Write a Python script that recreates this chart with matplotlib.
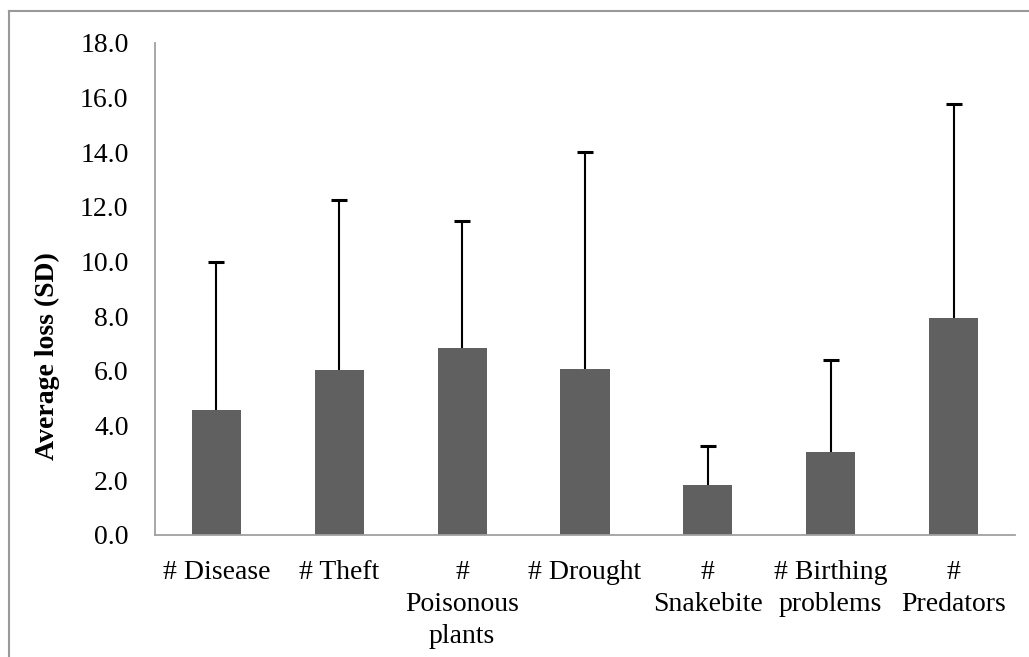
import matplotlib
matplotlib.use("Agg")
import matplotlib.pyplot as plt
from matplotlib.lines import Line2D
import numpy as np

# categories and values
categories = ["# Disease", "# Theft", "#\nPoisonous\nplants", "# Drought",
              "#\nSnakebite", "# Birthing\nproblems", "#\nPredators"]
avg_loss = [4.57, 6.02, 6.84, 6.06, 1.83, 3.03, 7.95]
sd_loss = [5.41, 6.25, 4.65, 7.96, 1.43, 3.37, 7.81]
y_ticks = [0, 2, 4, 6, 8, 10, 12, 14, 16, 18]

plt.rcParams['font.family'] = ['Liberation Serif', 'DejaVu Serif']

fig = plt.figure(figsize=(10.29, 6.57), dpi=100)
ax = fig.add_axes([0.1506, 0.1857, 0.8358, 0.7489])

x = np.arange(len(categories))
ax.bar(x, avg_loss, width=0.4, color="#606060", zorder=2)
eb = ax.errorbar(x, avg_loss, yerr=[np.zeros(len(sd_loss)), sd_loss], fmt="none",
                 ecolor="black", elinewidth=1.5, capsize=5.5, capthick=2.2, zorder=3)
# only the upper cap is wanted
eb[1][0].set_visible(False)

ax.set_xlim(-0.5, len(categories) - 0.5)
ax.set_ylim(0, 18)
ax.set_yticks(y_ticks)
ax.set_yticklabels([f"{v:.1f}" for v in y_ticks])
ax.set_xticks(x)
ax.set_xticklabels(categories, linespacing=1.38)

ax.tick_params(axis="y", length=0, pad=19, labelsize=20)
ax.tick_params(axis="x", length=0, pad=18, labelsize=20)

ax.set_ylabel("Average loss (SD)", fontsize=20, fontweight="bold")
ax.yaxis.set_label_coords(-0.111, 0.364)

for s in ["top", "right"]:
    ax.spines[s].set_visible(False)
for s in ["left", "bottom"]:
    ax.spines[s].set_color("#a0a0a0")
    ax.spines[s].set_linewidth(1.3)

# outer chart frame (only top and left edges visible)
fig.add_artist(Line2D([8.5 / 1029, 8.5 / 1029], [0, 1 - 11 / 657],
                      transform=fig.transFigure, color="#999999", lw=1.5))
fig.add_artist(Line2D([8.5 / 1029, 1], [1 - 11 / 657, 1 - 11 / 657],
                      transform=fig.transFigure, color="#999999", lw=1.5))

fig.savefig("out.png", dpi=100)
